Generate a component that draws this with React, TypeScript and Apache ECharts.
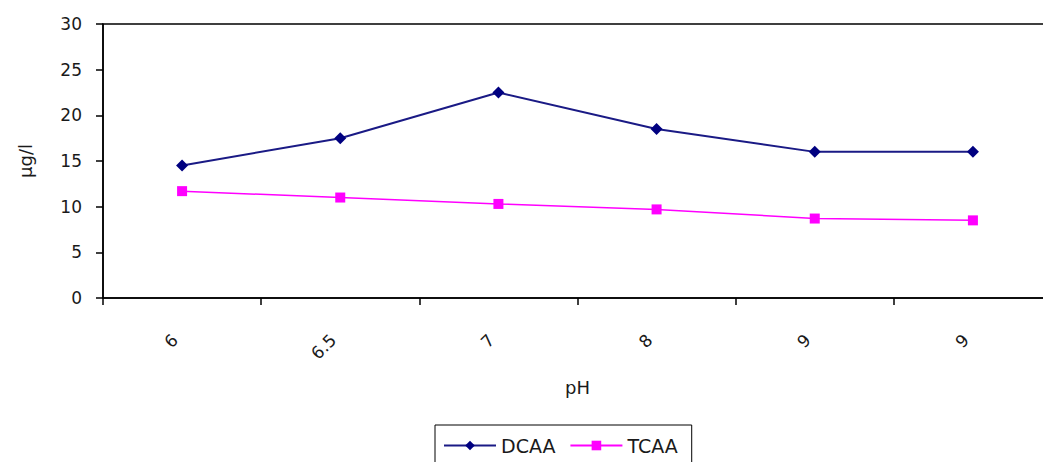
import React, { useEffect, useRef } from "react";
import * as echarts from "echarts";

// pH values on the category axis
const phLabels = ["6", "6.5", "7", "8", "9", "9"];
// Haloacetic acid concentrations (µg/l)
const dcaaValues = [14.5, 17.5, 22.5, 18.5, 16, 16];
const tcaaValues = [11.7, 11, 10.3, 9.7, 8.7, 8.5];
// Value axis range
const yMin = 0;
const yMax = 30;
const yStep = 5;

const FONT = "DejaVu Sans";

export default function App() {
  const ref = useRef<HTMLDivElement>(null);

  useEffect(() => {
    if (!ref.current) return;
    const chart = echarts.init(ref.current, null, { renderer: "svg" });
    chart.setOption({
      animation: false,
      backgroundColor: "#ffffff",
      grid: {
        left: 103,
        top: 24,
        width: 949,
        height: 274,
        show: true,
        borderColor: "#000",
        borderWidth: 1.5,
      },
      xAxis: {
        type: "category",
        data: phLabels,
        boundaryGap: true,
        name: "pH",
        nameLocation: "middle",
        nameGap: 80,
        nameTextStyle: { fontFamily: FONT, fontSize: 18, color: "#1a1a1a" },
        axisLine: { lineStyle: { color: "#000", width: 1.5 } },
        axisTick: { show: true, inside: false, length: 7, lineStyle: { color: "#000", width: 1.5 } },
        axisLabel: {
          rotate: 45,
          margin: 32,
          padding: [0, 10, 20, 0],
          fontFamily: FONT,
          fontSize: 17,
          color: "#1a1a1a",
        },
        splitLine: { show: false },
      },
      yAxis: {
        type: "value",
        min: yMin,
        max: yMax,
        interval: yStep,
        name: "µg/l",
        nameLocation: "middle",
        nameRotate: 90,
        nameGap: 69,
        nameTextStyle: { fontFamily: FONT, fontSize: 18, color: "#1a1a1a" },
        axisLine: { show: true, lineStyle: { color: "#000", width: 1.5 } },
        axisTick: { show: true, inside: false, length: 7, lineStyle: { color: "#000", width: 1.5 } },
        axisLabel: { margin: 21, fontFamily: FONT, fontSize: 17, color: "#1a1a1a" },
        splitLine: { show: false },
      },
      legend: {
        left: 435,
        top: 425,
        orient: "horizontal",
        borderColor: "#000",
        borderWidth: 1,
        padding: [11, 14, 30, 8],
        itemGap: 14,
        itemWidth: 52,
        itemHeight: 12,
        textStyle: { fontFamily: FONT, fontSize: 19, color: "#1a1a1a" },
        data: ["DCAA", "TCAA"],
      },
      series: [
        {
          name: "DCAA",
          type: "line",
          data: dcaaValues,
          symbol: "diamond",
          symbolSize: 12,
          lineStyle: { color: "#1a1a85", width: 2 },
          itemStyle: { color: "#000080" },
        },
        {
          name: "TCAA",
          type: "line",
          data: tcaaValues,
          symbol: "rect",
          symbolSize: 10,
          lineStyle: { color: "#ff00ff", width: 1.5 },
          itemStyle: { color: "#ff00ff" },
        },
      ],
    });
    return () => chart.dispose();
  }, []);

  // The plot frame runs past the right edge of the visible area, so the chart
  // canvas is wider than its clipping frame.
  return (
    <div
      style={{
        position: "fixed",
        left: 0,
        top: 0,
        width: 1043,
        height: 462,
        overflow: "hidden",
        background: "#fff",
      }}
    >
      <div ref={ref} style={{ width: 1070, height: 462 }} />
    </div>
  );
}
